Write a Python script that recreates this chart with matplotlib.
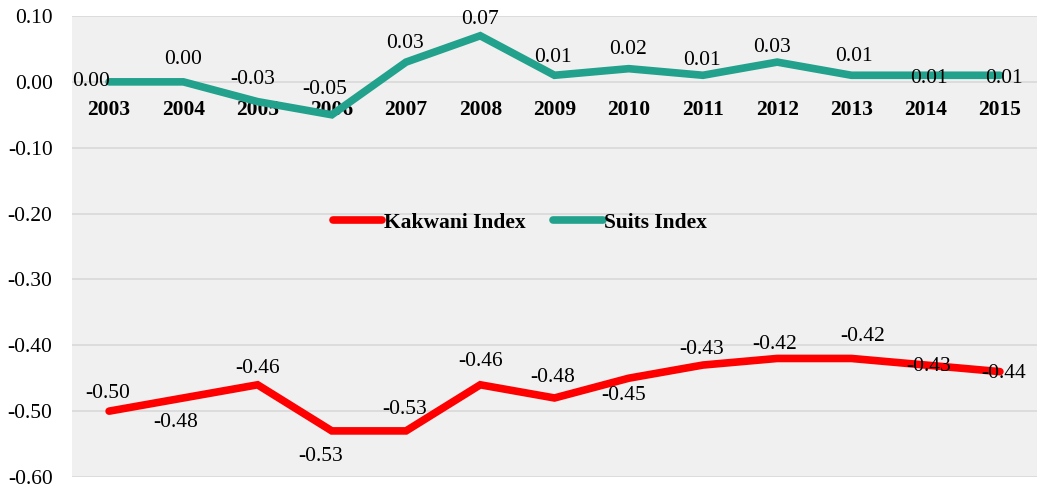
import matplotlib.pyplot as plt

years = ['2003', '2004', '2005', '2006', '2007', '2008', '2009',
         '2010', '2011', '2012', '2013', '2014', '2015']
kakwani = [-0.50, -0.48, -0.46, -0.53, -0.53, -0.46, -0.48,
           -0.45, -0.43, -0.42, -0.42, -0.43, -0.44]
suits = [0.00, 0.00, -0.03, -0.05, 0.03, 0.07, 0.01,
         0.02, 0.01, 0.03, 0.01, 0.01, 0.01]
yticks = [0.10, 0.00, -0.10, -0.20, -0.30, -0.40, -0.50, -0.60]

# label offsets in pixels (dx, dy), positive dy = up
kak_off = [(-1, 18), (-8, -25), (0, 16), (-11, -26), (-1, 21), (0, 23), (-2, 20),
           (-5, -17), (-1, 16), (-3, 14), (11, 22), (3, -1), (4, -2)]
suits_off = [(-18, 0), (0, 22), (-5, 22), (-7, 25), (-1, 19), (0, 16), (-2, 18),
             (-1, 19), (-1, 15), (-5, 15), (3, 19), (3, -3), (4, -3)]

plt.rcParams['font.family'] = ['Liberation Serif', 'DejaVu Serif']

fig = plt.figure(figsize=(10.37, 4.87), dpi=100)
ax = fig.add_axes([72 / 1037, 10 / 487, 965 / 1037, 461 / 487])
ax.set_facecolor('#f0f0f0')

x = list(range(len(years)))
ax.plot(x, kakwani, color='#ff0000', lw=5.5, solid_capstyle='round',
        solid_joinstyle='miter', label='Kakwani Index', zorder=3)
ax.plot(x, suits, color='#22a18c', lw=5.5, solid_capstyle='round',
        solid_joinstyle='miter', label='Suits Index', zorder=3)

for i in x:
    dx, dy = kak_off[i]
    ax.annotate(f'{kakwani[i]:.2f}', (i, kakwani[i]), xytext=(dx * 0.72, dy * 0.72),
                textcoords='offset points', ha='center', va='center', fontsize=15.5, zorder=4)
    dx, dy = suits_off[i]
    ax.annotate(f'{suits[i]:.2f}', (i, suits[i]), xytext=(dx * 0.72, dy * 0.72),
                textcoords='offset points', ha='center', va='center', fontsize=15.5, zorder=4)

ax.set_xlim(-0.5, len(years) - 0.5)
ax.set_ylim(-0.60, 0.10)
ax.set_yticks(yticks)
ax.set_yticklabels([f'{v:.2f}' for v in yticks])
ax.yaxis.grid(True, color='#d9d9d9', lw=1.2)
ax.set_axisbelow(True)

ax.set_xticks(x)
ax.set_xticklabels(years)
ax.spines['bottom'].set_position(('data', 0))
for s in ax.spines.values():
    s.set_visible(False)
ax.tick_params(axis='x', length=0, pad=13, labelsize=15.5)
ax.tick_params(axis='y', length=0, pad=14, labelsize=15.5)
for lab in ax.get_xticklabels():
    lab.set_fontweight('bold')

leg = ax.legend(loc='center', bbox_to_anchor=(0.464, 0.551), ncol=2, frameon=False,
                handlelength=2.3, handletextpad=0.05, columnspacing=1.3,
                prop={'weight': 'bold', 'size': 15.5})

fig.savefig('out.png', dpi=100)
